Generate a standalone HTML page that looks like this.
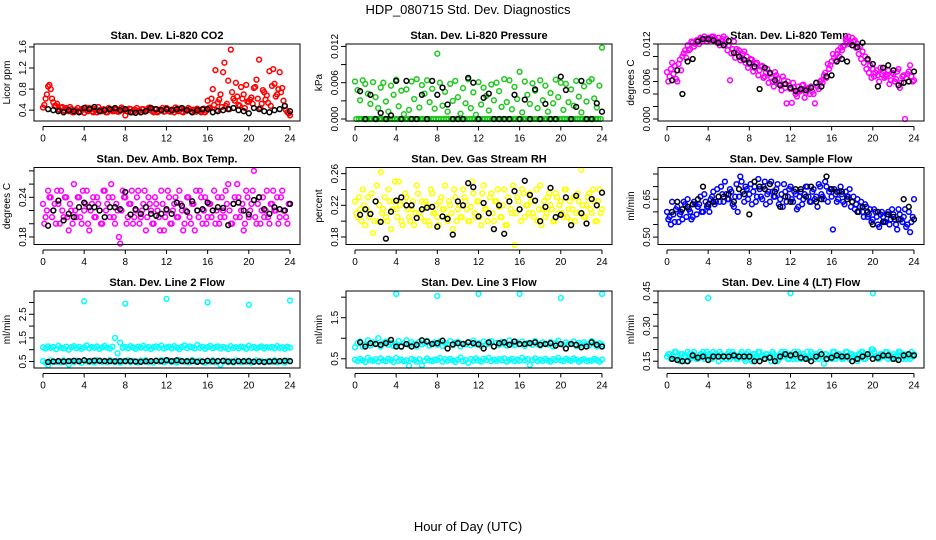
<!DOCTYPE html>
<html><head><meta charset="utf-8"><title>HDP_080715 Std. Dev. Diagnostics</title>
<style>html,body{margin:0;padding:0;background:#fff}svg{display:block;font-family:"Liberation Sans",Arial,sans-serif}</style>
</head><body>
<svg id="chart" width="936" height="540" viewBox="0 0 936 540" xmlns="http://www.w3.org/2000/svg">
<text x="468" y="14" text-anchor="middle" font-size="13">HDP_080715  Std. Dev. Diagnostics</text>
<text x="468" y="531" text-anchor="middle" font-size="13">Hour of Day (UTC)</text>
</svg>
<script>
// x tick labels (hours)
const xTicks = [0,4,8,12,16,20,24];
// sampling: series A starts at 0h, B at 0.125h (step 0.25h); black at 0.5h step 0.5h
const stepA = 0.25, startA = 0, startB = 0.125, stepBlack = 0.5, startBlack = 0.5;

const co2A = [.45,.62,.85,.80,.55,.48,.42,.45,.40,.44,.38,.42,.36,.40,.38,.42,.35,.40,.44,.38,.42,.36,.40,.38,.40,.36,.42,.38,.41,.37,.39,.43,.30,.38,.42,.36,.40,.38,.36,.42,.38,.44,.40,.36,.42,.38,.40,.37,.44,.38,.41,.36,.40,.43,.37,.41,.39,.42,.36,.40,.43,.38,.41,.36,.58,.45,.80,1.16,.55,.70,1.12,.48,.96,1.55,.62,.92,.50,.84,.70,.88,.56,.64,.82,.98,1.36,.52,.74,.68,1.14,.86,.90,.70,1.12,.82,.48,.36,.30];
const co2B = [.50,.70,.88,.62,.48,.52,.40,.46,.38,.42,.46,.36,.40,.44,.37,.41,.45,.38,.42,.36,.40,.46,.38,.42,.36,.44,.40,.38,.42,.37,.45,.40,.38,.43,.36,.41,.44,.39,.42,.37,.40,.45,.38,.42,.36,.41,.44,.38,.42,.37,.40,.45,.38,.42,.36,.40,.44,.38,.41,.37,.40,.36,.43,.39,.44,.62,.50,.40,.60,.46,1.30,.52,.42,.74,.58,.66,.48,.62,.44,.56,.60,.52,.84,.62,.44,.78,.60,.54,.48,1.18,.66,.80,.74,.58,.40,.34];
const co2Black = [.42,.40,.38,.36,.40,.38,.36,.44,.42,.46,.38,.40,.42,.44,.40,.42,.36,.35,.36,.38,.44,.42,.40,.42,.40,.42,.44,.40,.36,.40,.42,.42,.36,.38,.40,.42,.44,.40,.38,.34,.44,.42,.38,.36,.40,.42,.48,.38];

const presA = [.0062,.0048,.0031,.0064,.0058,.0042,.0025,.0061,.0036,.0018,.0052,.0060,.0029,.0012,.0055,.0040,.0065,.0021,.0047,.0008,.0049,.0015,.0062,.0033,.0066,.0019,.0056,.0042,.0064,.0028,.0050,.0017,.0108,.0060,.0022,.0045,.0012,.0058,.0030,.0063,.0036,.0009,.0051,.0026,.0066,.0018,.0044,.0007,.0061,.0024,.0052,.0038,.0014,.0057,.0031,.0060,.0046,.0020,.0066,.0028,.0064,.0016,.0053,.0033,.0078,.0011,.0062,.0040,.0025,.0059,.0047,.0018,.0064,.0031,.0055,.0012,.0043,.0026,.0065,.0036,.0060,.0015,.0058,.0028,.0049,.0022,.0063,.0037,.0011,.0054,.0029,.0062,.0066,.0034,.0019,.0055,.0118];
const presB = [0,0,0,0,0,0,0,0,0,0,0,0,0,0,0,0,0,0,0,0,0,0,0,0,0,0,0,0,0,0,0,0,0,0,0,0,0,0,0,0,0,0,0,0,0,0,0,0,0,0,0,0,0,0,0,0,0,0,0,0,0,0,0,0,0,0,0,0,0,0,0,0,0,0,0,0,0,0,0,0,0,0,0,0,0,0,0,0,0,0,0,0,0,0,0,0];
const presBlack = [.0046,0,.0040,0,.0010,0,.0006,.0063,0,.0063,0,0,.0040,0,.0063,.0040,.0052,.0024,0,0,0,.0068,.0060,0,.0035,.0042,0,0,0,0,.0040,0,.0032,0,.0049,0,.0025,0,0,.0070,.0048,0,.0020,.0063,0,0,.0026,.0012];

const ltempA = [.0075,.0068,.0090,.0085,.0060,.0095,.0100,.0110,.0118,.0112,.0122,.0120,.0126,.0130,.0125,.0128,.0130,.0128,.0132,.0126,.0130,.0124,.0132,.0128,.0118,.0105,.0124,.0112,.0110,.0098,.0108,.0100,.0088,.0095,.0082,.0090,.0078,.0085,.0068,.0080,.0072,.0060,.0075,.0065,.0055,.0068,.0050,.0060,.0048,.0058,.0040,.0052,.0046,.0055,.0042,.0050,.0052,.0040,.0058,.0048,.0062,.0070,.0066,.0080,.0092,.0098,.0104,.0100,.0110,.0118,.0124,.0120,.0130,.0126,.0120,.0116,.0108,.0100,.0094,.0086,.0080,.0074,.0070,.0082,.0076,.0068,.0078,.0062,.0072,.0064,.0080,.0058,.0070,.0066,.0076,.0068,.0062];
const ltempB = [.0060,.0080,.0072,.0064,.0088,.0078,.0105,.0098,.0110,.0124,.0116,.0126,.0120,.0128,.0132,.0124,.0126,.0132,.0130,.0122,.0118,.0128,.0120,.0110,.0062,.0112,.0098,.0106,.0094,.0104,.0090,.0082,.0096,.0076,.0088,.0070,.0084,.0066,.0074,.0058,.0066,.0052,.0070,.0056,.0046,.0062,.0025,.0054,.0026,.0050,.0036,.0044,.0054,.0034,.0048,.0040,.0044,.0025,.0052,.0060,.0058,.0074,.0088,.0086,.0104,.0094,.0110,.0114,.0116,.0128,.0132,.0122,.0124,.0114,.0104,.0096,.0090,.0080,.0074,.0066,.0068,.0078,.0060,.0072,.0066,.0070,.0056,.0074,.0060,.0076,.0050,.0068,.0000,.0072,.0086,.0060];
const ltempBlack = [.0062,.0078,.0040,.0092,.0096,.0124,.0128,.0128,.0126,.0122,.0118,.0125,.0106,.0100,.0095,.0090,.0084,.0048,.0082,.0074,.0062,.0054,.0056,.0050,.0045,.0048,.0046,.0050,.0058,.0052,.0068,.0070,.0092,.0096,.0092,.0118,.0115,.0122,.0096,.0088,.0052,.0082,.0086,.0078,.0054,.0058,.0060,.0076];

const ambA = [.23,.21,.25,.24,.22,.20,.23,.25,.21,.24,.19,.22,.26,.21,.24,.20,.22,.25,.19,.23,.21,.24,.22,.20,.25,.23,.21,.24,.20,.22,.17,.25,.24,.21,.23,.20,.22,.25,.21,.23,.19,.24,.22,.20,.23,.21,.25,.19,.22,.24,.20,.23,.21,.25,.22,.20,.24,.21,.23,.19,.22,.25,.20,.24,.21,.23,.22,.20,.24,.21,.22,.25,.26,.20,.23,.21,.24,.22,.19,.25,.21,.23,.28,.20,.24,.22,.21,.25,.20,.23,.22,.24,.21,.25,.22,.20,.23];
const ambB = [.20,.22,.24,.21,.23,.25,.20,.22,.24,.21,.23,.20,.22,.24,.21,.25,.23,.20,.22,.24,.21,.23,.20,.25,.22,.24,.26,.21,.23,.18,.22,.24,.20,.23,.25,.21,.24,.20,.22,.25,.21,.23,.20,.24,.22,.19,.23,.21,.25,.20,.22,.24,.21,.23,.19,.22,.24,.20,.23,.25,.21,.24,.22,.20,.23,.21,.25,.22,.20,.24,.21,.23,.22,.20,.24,.26,.21,.23,.20,.24,.22,.25,.21,.23,.20,.24,.22,.21,.23,.25,.22,.20,.24,.22,.21,.23];
const ambBlack = [.197,.220,.235,.205,.215,.210,.225,.232,.225,.225,.220,.210,.225,.225,.222,.248,.214,.222,.215,.225,.215,.212,.215,.222,.215,.232,.227,.218,.234,.220,.222,.232,.220,.225,.224,.198,.230,.232,.220,.214,.236,.240,.222,.215,.225,.222,.220,.230];

const rhA = [.225,.205,.215,.240,.195,.230,.210,.185,.225,.200,.262,.215,.205,.240,.190,.225,.215,.250,.200,.225,.230,.205,.215,.195,.245,.210,.225,.200,.220,.195,.235,.210,.205,.225,.215,.245,.200,.220,.190,.230,.215,.205,.240,.225,.200,.218,.235,.205,.225,.195,.245,.215,.210,.235,.200,.225,.218,.205,.240,.195,.225,.210,.170,.230,.215,.240,.205,.220,.235,.210,.225,.200,.245,.215,.205,.230,.220,.200,.235,.210,.225,.205,.240,.215,.200,.230,.210,.225,.265,.205,.220,.235,.210,.225,.200,.240,.215];
const rhB = [.210,.230,.200,.220,.215,.205,.235,.200,.245,.220,.210,.230,.200,.225,.215,.250,.205,.220,.195,.235,.215,.200,.225,.210,.235,.205,.215,.225,.200,.240,.210,.220,.195,.230,.215,.205,.225,.210,.240,.200,.220,.205,.230,.215,.200,.250,.210,.225,.205,.235,.215,.200,.230,.210,.225,.240,.205,.220,.195,.230,.215,.245,.210,.225,.200,.235,.220,.210,.225,.205,.240,.215,.195,.225,.210,.235,.215,.200,.230,.220,.210,.240,.205,.225,.215,.200,.235,.210,.220,.205,.230,.215,.240,.200,.225,.210];
const rhBlack = [.208,.215,.209,.225,.199,.178,.212,.226,.230,.220,.220,.204,.215,.217,.218,.193,.206,.203,.183,.225,.220,.248,.243,.206,.223,.210,.190,.220,.184,.225,.238,.215,.251,.233,.226,.200,.218,.242,.205,.208,.230,.195,.232,.210,.197,.228,.220,.236];

const flowA = [.60,.58,.64,.56,.62,.59,.57,.63,.65,.60,.58,.63,.62,.66,.60,.64,.62,.65,.68,.64,.66,.70,.64,.67,.65,.68,.62,.71,.66,.72,.64,.69,.67,.63,.70,.66,.69,.65,.72,.67,.64,.68,.66,.71,.65,.62,.68,.66,.70,.64,.67,.62,.68,.65,.70,.66,.64,.69,.66,.71,.67,.65,.70,.68,.66,.69,.64,.68,.67,.63,.66,.69,.64,.61,.65,.62,.60,.63,.58,.61,.57,.60,.55,.59,.58,.56,.60,.57,.59,.55,.61,.57,.58,.54,.60,.56,.65];
const flowB = [.57,.55,.59,.61,.56,.60,.64,.58,.61,.57,.64,.59,.63,.60,.67,.62,.60,.66,.63,.69,.64,.67,.72,.65,.69,.63,.66,.60,.74,.68,.70,.65,.71,.68,.64,.73,.66,.70,.63,.68,.72,.66,.69,.63,.67,.71,.64,.69,.65,.68,.61,.66,.63,.67,.70,.64,.68,.65,.62,.70,.66,.72,.64,.69,.53,.67,.65,.70,.64,.68,.66,.62,.66,.63,.60,.64,.58,.62,.59,.56,.61,.58,.54,.60,.56,.59,.55,.61,.57,.53,.59,.56,.61,.55,.52,.58];
const flowBlack = [.60,.64,.61,.62,.63,.65,.70,.63,.64,.66,.66,.67,.64,.69,.67,.59,.72,.70,.69,.71,.68,.62,.66,.64,.69,.69,.66,.70,.64,.65,.74,.69,.68,.68,.65,.64,.60,.62,.60,.55,.60,.56,.59,.58,.57,.65,.62,.57];

const line2A = [1.10,1.05,1.14,1.08,1.12,1.02,1.16,1.09,1.06,1.13,1.00,1.11,1.15,1.07,1.12,1.04,1.10,1.18,1.06,1.12,1.08,1.14,1.03,1.10,1.16,1.09,1.05,1.13,1.50,0.85,1.30,1.08,1.12,1.06,1.15,1.10,1.04,1.13,1.09,1.16,1.07,1.12,1.03,1.11,1.14,1.08,1.17,1.05,1.10,1.13,1.06,1.15,1.09,1.02,1.12,1.18,1.07,1.14,1.10,1.05,1.20,1.08,1.13,1.04,1.11,1.16,1.07,1.10,1.14,1.05,1.12,1.09,1.03,1.15,1.08,1.11,1.06,1.13,1.10,1.04,1.16,1.08,1.12,1.06,1.10,1.14,1.05,1.11,1.09,1.12,1.06,1.15,1.08,1.10,1.04,1.13,1.09,1.11];
const line2B = [0.52,0.45,0.35,0.55,0.50,0.48,0.53,0.46,0.55,0.49,0.38,0.52,0.47,0.54,0.50,0.45,0.56,0.51,0.48,0.53,0.46,0.55,0.50,0.49,0.53,0.47,0.56,0.51,0.48,0.54,0.45,0.52,0.50,0.55,0.47,0.53,0.49,0.46,0.54,0.51,0.55,0.48,0.52,0.46,0.53,0.50,0.56,0.47,0.51,0.54,0.48,0.52,0.46,0.55,0.50,0.49,0.53,0.47,0.56,0.51,0.48,0.54,0.50,0.45,0.52,0.49,0.55,0.47,0.53,0.36,0.50,0.54,0.48,0.52,0.46,0.55,0.50,0.47,0.53,0.49,0.54,0.46,0.51,0.55,0.48,0.52,0.47,0.50,0.53,0.49,0.55,0.47,0.52,0.50,0.46,0.54,0.51,0.48];
const line2OutT = [4,8,12,16,20,24];
const line2OutV = [3.05,2.95,3.15,3.0,2.9,3.08];
const line2Black = [.48,.50,.52,.50,.52,.53,.52,.55,.52,.54,.53,.52,.52,.51,.52,.52,.52,.50,.49,.51,.52,.53,.52,.56,.52,.55,.52,.51,.52,.49,.50,.53,.51,.52,.53,.50,.49,.52,.51,.52,.49,.50,.48,.50,.51,.52,.53,.52];

const line3A = [.78,.88,.92,.80,.85,.95,.82,.90,.87,1.00,.80,.88,.92,.84,.89,.81,.86,.93,.79,.88,.95,.83,.90,.86,.80,.91,.85,.88,.94,.82,.87,.90,.84,.92,.81,.88,.86,.93,.83,.89,.91,.80,.87,.85,.90,.83,.94,.86,.88,.81,.92,.85,.87,.93,.80,.89,.84,.91,.86,.82,.95,.87,.83,.90,.85,.92,.81,.88,.89,.84,.93,.86,.82,.90,.87,.85,.91,.80,.88,.94,.86,.83,.90,.85,.87,.92,.81,.89,.84,.90,.86,.82,.93,.87,.80,.88,.85,.83];
const line3B = [.48,.44,.50,.46,.42,.52,.47,.45,.49,.43,.51,.46,.44,.50,.47,.42,.52,.45,.48,.44,.46,.33,.50,.47,.43,.49,.34,.45,.51,.46,.44,.48,.47,.52,.43,.49,.45,.50,.46,.42,.48,.53,.44,.47,.40,.49,.45,.51,.46,.43,.50,.47,.52,.44,.48,.45,.49,.46,.51,.43,.47,.50,.44,.48,.45,.52,.46,.49,.35,.47,.51,.44,.48,.45,.50,.46,.43,.49,.47,.52,.46,.44,.50,.47,.45,.51,.48,.43,.47,.49,.44,.46,.45,.50,.47,.43,.48,.46,.49];
const line3OutT = [4,8,12,16,20,24];
const line3OutV = [2.08,2.03,2.08,2.08,1.98,2.08];
const line3Black = [.90,.80,.88,.86,.84,.88,.96,.80,.80,.86,.80,.84,.95,.92,.86,.88,.94,.75,.85,.88,.86,.90,.88,.85,.75,.90,.80,.88,.90,.84,.92,.86,.86,.88,.90,.84,.86,.88,.82,.86,.75,.86,.84,.78,.80,.90,.84,.80];

const line4A = [.17,.18,.16,.19,.17,.15,.18,.17,.19,.16,.18,.17,.16,.18,.19,.17,.18,.16,.19,.17,.15,.18,.17,.16,.19,.17,.18,.16,.17,.19,.16,.18,.17,.15,.18,.16,.19,.17,.16,.18,.17,.19,.16,.15,.18,.17,.19,.16,.18,.16,.17,.19,.16,.18,.17,.16,.19,.17,.18,.16,.17,.14,.18,.17,.16,.19,.17,.18,.16,.17,.19,.16,.18,.17,.15,.18,.19,.16,.17,.18,.20,.17,.16,.18,.17,.19,.16,.17,.18,.16,.19,.17,.18,.16,.17,.19,.18];
const line4B = [.18,.16,.17,.19,.16,.18,.17,.15,.18,.17,.19,.16,.17,.18,.16,.19,.17,.16,.18,.17,.19,.16,.17,.18,.16,.19,.17,.16,.18,.17,.15,.19,.16,.18,.17,.19,.17,.16,.18,.17,.15,.18,.17,.16,.19,.17,.18,.16,.17,.19,.16,.18,.16,.17,.19,.17,.18,.16,.17,.19,.17,.18,.16,.17,.19,.16,.18,.17,.16,.19,.17,.18,.17,.16,.18,.19,.16,.18,.17,.20,.19,.17,.16,.18,.17,.19,.18,.16,.17,.18,.19,.16,.17,.18,.16,.17];
const line4OutT = [4,12,20];
const line4OutV = [.42,.44,.44];
const line4Black = [.16,.155,.15,.15,.175,.165,.17,.155,.17,.17,.17,.17,.175,.17,.17,.17,.15,.15,.16,.165,.15,.17,.18,.175,.18,.165,.16,.15,.17,.18,.16,.165,.175,.17,.17,.15,.16,.17,.18,.16,.165,.175,.175,.16,.155,.175,.18,.175];

// y-axis tick values & printed labels per panel
const co2Ticks=[0.4,0.8,1.2,1.6], co2Labels=["0.4","0.8","1.2","1.6"];
const presTicks=[0,0.003,0.006,0.009,0.012], presLabels=["0.000","","0.006","","0.012"];
const ltempTicks=[0,0.002,0.004,0.006,0.008,0.010,0.012], ltempLabels=["0.000","","","0.006","","","0.012"];
const ambTicks=[0.18,0.20,0.22,0.24,0.26,0.28], ambLabels=["0.18","","","0.24","",""];
const rhTicks=[0.18,0.20,0.22,0.24,0.26], rhLabels=["0.18","","0.22","","0.26"];
const flowTicks=[0.50,0.55,0.60,0.65,0.70,0.75], flowLabels=["0.50","","","0.65","",""];
const l2Ticks=[0.5,1.0,1.5,2.0,2.5,3.0], l2Labels=["0.5","","1.5","","2.5",""];
const l3Ticks=[0.5,1.0,1.5,2.0], l3Labels=["0.5","","1.5",""];
const l4Ticks=[0.15,0.20,0.25,0.30,0.35,0.40,0.45], l4Labels=["0.15","","","0.30","","","0.45"];

const NS="http://www.w3.org/2000/svg";
const svg=document.getElementById('chart');
const colLeft=[34,346,658], rowTop=[44,167.5,291], BW=266, BH=77;

const panels=[
 {key:'co2',title:'Stan. Dev. Li-820 CO2',ylab:'Licor ppm',c:0,r:0,ymin:0.194,ymax:1.656,ticks:co2Ticks,labels:co2Labels,col:'#ff0000',A:co2A,B:co2B,K:co2Black},
 {key:'pressure',title:'Stan. Dev. Li-820 Pressure',ylab:'kPa',c:1,r:0,ymin:-0.00033,ymax:0.0124,ticks:presTicks,labels:presLabels,col:'#1ec81e',A:presA,B:presB,K:presBlack},
 {key:'li820-temp',title:'Stan. Dev. Li-820 Temp.',ylab:'degrees C',c:2,r:0,ymin:-0.00032,ymax:0.012,ticks:ltempTicks,labels:ltempLabels,col:'#ff00ff',A:ltempA,B:ltempB,K:ltempBlack},
 {key:'amb-temp',title:'Stan. Dev. Amb. Box Temp.',ylab:'degrees C',c:0,r:1,ymin:0.1686,ymax:0.2851,ticks:ambTicks,labels:ambLabels,col:'#ff00ff',A:ambA,B:ambB,K:ambBlack},
 {key:'rh',title:'Stan. Dev. Gas Stream RH',ylab:'percent',c:1,r:1,ymin:0.1705,ymax:0.2678,ticks:rhTicks,labels:rhLabels,col:'#ffff00',A:rhA,B:rhB,K:rhBlack},
 {key:'sample-flow',title:'Stan. Dev. Sample Flow',ylab:'ml/min',c:2,r:1,ymin:0.4707,ymax:0.7757,ticks:flowTicks,labels:flowLabels,col:'#0000ff',A:flowA,B:flowB,K:flowBlack},
 {key:'line2-flow',title:'Stan. Dev. Line 2 Flow',ylab:'ml/min',c:0,r:2,ymin:0.226,ymax:3.484,ticks:l2Ticks,labels:l2Labels,col:'#00ffff',A:line2A,A2:line2B,B:null,K:line2Black,OT:line2OutT,OV:line2OutV},
 {key:'line3-flow',title:'Stan. Dev. Line 3 Flow',ylab:'ml/min',c:1,r:2,ymin:0.275,ymax:2.151,ticks:l3Ticks,labels:l3Labels,col:'#00ffff',A:line3A,A2:line3B,B:null,K:line3Black,OT:line3OutT,OV:line3OutV},
 {key:'line4-flow',title:'Stan. Dev. Line 4 (LT) Flow',ylab:'ml/min',c:2,r:2,ymin:0.121,ymax:0.45,ticks:l4Ticks,labels:l4Labels,col:'#00ffff',A:line4A,B:line4B,K:line4Black,OT:line4OutT,OV:line4OutV}
];

function mk(tag,attrs,parent){const e=document.createElementNS(NS,tag);for(const k in attrs)e.setAttribute(k,attrs[k]);(parent||svg).appendChild(e);return e;}

panels.forEach(p=>{
  const L=colLeft[p.c], T=rowTop[p.r], B=T+BH;
  const xs=t=>L+9+t*10.29;
  const ys=v=>B-(v-p.ymin)/(p.ymax-p.ymin)*BH;
  const g=mk('g',{});
  
  
  const ttl=mk('text',{x:L+BW/2,y:T-5,'text-anchor':'middle','font-size':11,'font-weight':'bold'},g);
  ttl.textContent=p.title;
  
  
  const pts=mk('g',{fill:'none','stroke-width':1.5},g);
  
  
  function plot(arr,start,step,color){
    arr.forEach((v,i)=>{
      const t=start+i*step;
      if(t>24.01) return;
      const c=mk('circle',{cx:xs(t).toFixed(1),cy:ys(v).toFixed(1),r:2.4,stroke:color},pts);
      
      
    });
  }
  plot(p.A,startA,stepA,p.col);
  if(p.A2) plot(p.A2,startA,stepA,p.col);
  if(p.B) plot(p.B,startB,stepA,p.col);
  if(p.OT){p.OT.forEach((t,i)=>{
      const c=mk('circle',{cx:xs(t).toFixed(1),cy:ys(p.OV[i]).toFixed(1),r:2.4,stroke:p.col},pts);
      
      
  });}
  plot(p.K,startBlack,stepBlack,'#000');
  const box=mk('rect',{x:L,y:T,width:BW,height:BH,fill:'none',stroke:'#000','stroke-width':1},g);
  
  
  const xa=mk('g',{stroke:'#000','stroke-width':1},g);
  
  
  const ay=B+5.5;
  mk('line',{x1:xs(xTicks[0]),x2:xs(xTicks[xTicks.length-1]),y1:ay,y2:ay},xa);
  xTicks.forEach(t=>{
    mk('line',{x1:xs(t),x2:xs(t),y1:ay,y2:ay+4},xa);
    const tx=mk('text',{x:xs(t),y:ay+15,'text-anchor':'middle','font-size':10,stroke:'none',fill:'#000'},xa);
    tx.textContent=String(t);
    
    
  });
  const ya=mk('g',{stroke:'#000','stroke-width':1},g);
  
  
  p.ticks.forEach((v,i)=>{
    const y=ys(v);
    mk('line',{x1:L-5,x2:L,y1:y,y2:y},ya);
    if(p.labels[i]){
      const tx=mk('text',{x:0,y:0,transform:`translate(${L-8},${y}) rotate(-90)`,'text-anchor':'middle','font-size':10,stroke:'none',fill:'#000'},ya);
      tx.textContent=p.labels[i];
      
      
    }
  });
  const yt=mk('text',{x:0,y:0,transform:`translate(${L-24},${T+BH/2}) rotate(-90)`,'text-anchor':'middle','font-size':10},g);
  yt.textContent=p.ylab;
  
  
});
</script>
</body></html>
